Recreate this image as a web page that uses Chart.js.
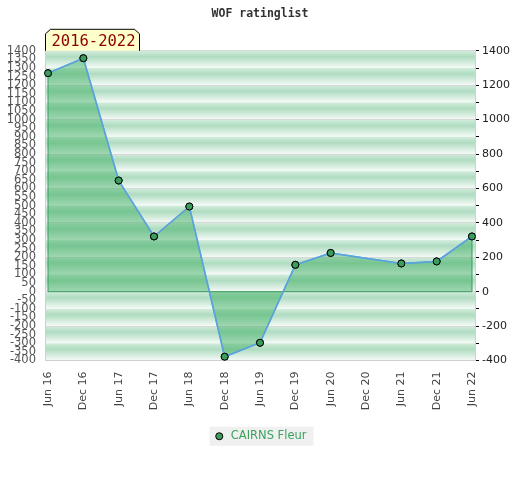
<!DOCTYPE html>
<html>
<head>
<meta charset="utf-8">
<script src="https://cdn.jsdelivr.net/npm/chart.js@4"></script>
<style>
  html, body { margin: 0; padding: 0; background: #fff; }
  #wrap { width: 520px; height: 480px; }
</style>
</head>
<body>
<div id="wrap"><canvas id="myChart0"></canvas></div>
<script>
// tick labels along the x axis (half-year steps)
var tickLabels = ["Jun 16", "Dec 16", "Jun 17", "Dec 17", "Jun 18", "Dec 18", "Jun 19",
                  "Dec 19", "Jun 20", "Dec 20", "Jun 21", "Dec 21", "Jun 22"];
// rating for each tick, null = no list that period
var ratings = [1270, 1357, 646, 321, 495, -378, -297, 156, 225, null, 164, 176, 321];
var seriesName = "CAIRNS Fleur";
var periodLabel = "2016-2022";
var chartTitle = "WOF ratinglist";

var yMin = -400, yMax = 1400;

var points = [];
for (var i in ratings) {
    points.push({ x: Number(i), y: ratings[i] });
}

// striped background, one gradient band per 100 rating points
var stripes = {
    id: 'stripes',
    beforeDraw: function(chart) {
        var ctx = chart.ctx, a = chart.chartArea, y = chart.scales.y;
        ctx.save();
        for (var v = yMax; v > yMin; v -= 100) {
            var y0 = y.getPixelForValue(v), y1 = y.getPixelForValue(v - 100);
            var g = ctx.createLinearGradient(0, y0, 0, y1);
            g.addColorStop(0, '#d2ecdc');
            g.addColorStop(0.35, '#b0dcc1');
            g.addColorStop(1, '#f6fbf8');
            ctx.fillStyle = g;
            ctx.fillRect(a.left, y0, a.right - a.left, y1 - y0);
        }
        // legend background
        var lg = chart.legend;
        if (lg && lg.legendHitBoxes && lg.legendHitBoxes.length) {
            var hb = lg.legendHitBoxes[0];
            ctx.fillStyle = '#f0f0f0';
            ctx.fillRect(hb.left - 4, hb.top + hb.height / 2 - 9.5, hb.width + 11, 19);
        }
        ctx.restore();
    },
    afterDatasetsDraw: function(chart) {
        // outline of the filled area: the two ends and the zero line
        var ctx = chart.ctx, meta = chart.getDatasetMeta(0), y = chart.scales.y;
        var first = meta.data[0], last = meta.data[meta.data.length - 1];
        var zero = y.getPixelForValue(0);
        ctx.save();
        ctx.strokeStyle = '#3a9d5d';
        ctx.lineWidth = 1;
        ctx.beginPath();
        ctx.moveTo(first.x, first.y);
        ctx.lineTo(first.x, zero);
        ctx.lineTo(last.x, zero);
        ctx.lineTo(last.x, last.y);
        ctx.stroke();
        ctx.restore();
        // redraw line and points on top of the outline
        meta.dataset.draw(ctx, chart.chartArea);
        for (var k = 0; k < meta.data.length; k++) {
            if (!meta.data[k].skip) meta.data[k].draw(ctx);
        }
    },
    afterDraw: function(chart) {
        // period tab above the plot
        var ctx = chart.ctx, a = chart.chartArea;
        var l = a.left, r = a.left + 95, t = a.top - 22, b = a.top;
        ctx.save();
        ctx.beginPath();
        ctx.moveTo(l + 0.5, b);
        ctx.lineTo(l + 0.5, t + 5);
        ctx.lineTo(l + 5.5, t + 0.5);
        ctx.lineTo(r - 5.5, t + 0.5);
        ctx.lineTo(r - 0.5, t + 5);
        ctx.lineTo(r - 0.5, b);
        ctx.fillStyle = '#ffffcc';
        ctx.fill();
        ctx.strokeStyle = '#000';
        ctx.lineWidth = 1;
        ctx.stroke();
        ctx.fillStyle = '#8b0000';
        ctx.font = '15.5px "DejaVu Sans Mono"';
        ctx.textBaseline = 'alphabetic';
        ctx.fillText(periodLabel, l + 6.5, b - 5);
        ctx.restore();
    }
};

var ctx = document.getElementById('myChart0');

var LineGraph = new Chart(ctx, {
    type: 'line',
    data: {
        datasets: [{
            label: seriesName,
            data: points,
            spanGaps: true,
            fill: 'origin',
            tension: 0,
            backgroundColor: 'rgba(45, 167, 83, 0.43)',
            borderColor: '#5ba3dc',
            borderWidth: 1.5,
            pointRadius: 3.5,
            pointBackgroundColor: '#3a9d5d',
            pointBorderColor: '#000',
            pointBorderWidth: 1
        }]
    },
    options: {
        responsive: true,
        maintainAspectRatio: false,
        animation: false,
        layout: { padding: { left: 0, right: 0, top: 0, bottom: 28 } },
        plugins: {
            title: {
                display: true,
                text: chartTitle,
                color: '#333',
                font: { family: '"DejaVu Sans Mono"', size: 11.5, weight: 'bold' },
                padding: { top: 7, bottom: 30 }
            },
            legend: {
                position: 'bottom',
                labels: {
                    usePointStyle: true,
                    pointStyle: 'circle',
                    boxWidth: 17,
                    boxHeight: 5,
                    padding: 8,
                    color: '#3aa35e',
                    font: { family: '"DejaVu Sans"', size: 11.5 }
                }
            },
            tooltip: { enabled: false }
        },
        scales: {
            x: {
                type: 'linear',
                min: -0.085,
                max: 12.085,
                afterFit: function(s) { s.height = 62; },
                grid: { display: true, color: 'transparent', drawTicks: false },
                border: { display: true, color: '#d0d0d0' },
                ticks: {
                    stepSize: 1,
                    includeBounds: false,
                    autoSkip: false,
                    maxRotation: 90,
                    minRotation: 90,
                    padding: 11,
                    color: '#444',
                    font: { family: '"DejaVu Sans"', size: 11 },
                    callback: function(v) { return tickLabels[v]; }
                }
            },
            y: {
                position: 'left',
                min: yMin,
                max: yMax,
                afterFit: function(s) { s.width = 45; },
                grid: { display: true, color: 'transparent', drawTicks: false, drawOnChartArea: false },
                border: { display: true, color: '#d0d0d0' },
                ticks: {
                    stepSize: 50,
                    autoSkip: false,
                    padding: 9,
                    color: '#555',
                    font: { family: '"DejaVu Sans"', size: 11.5 },
                    callback: function(v) { return String(v); }
                }
            },
            y2: {
                position: 'right',
                min: yMin,
                max: yMax,
                afterFit: function(s) { s.width = 45; },
                grid: {
                    color: function(c) { return c.tick && c.tick.value % 200 === 0 ? '#d8d8d8' : 'transparent'; },
                    tickColor: '#000',
                    tickLength: 4
                },
                border: { display: true, color: '#d0d0d0' },
                ticks: {
                    stepSize: 100,
                    autoSkip: false,
                    padding: 3,
                    color: '#222',
                    font: { family: '"DejaVu Sans"', size: 11 },
                    callback: function(v) { return v % 200 === 0 ? String(v) : ''; }
                }
            }
        }
    },
    plugins: [stripes]
});
</script>
</body>
</html>
